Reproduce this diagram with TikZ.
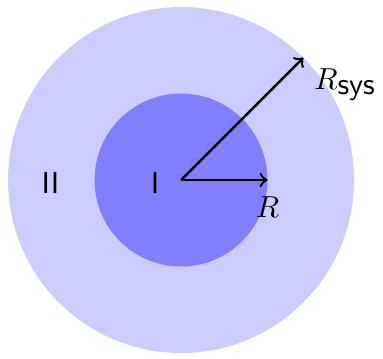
\documentclass[tikz,border=0pt]{standalone}
\usetikzlibrary{arrows}
\begin{document}
\begin{tikzpicture}[
  outerdisk/.style={fill=blue!20},
  innerdisk/.style={fill=blue!50},
  radarrow/.style={->,thick,black},
  lbl/.style={inner sep=1pt}
]
\useasboundingbox (-2.093,-2.058) rectangle (2.335,2.081);
\coordinate (c) at (0,0);
\fill[outerdisk] (c) circle (2);
\fill[innerdisk] (c) circle (1);
\coordinate (rend) at (1,0);
\coordinate (send) at (45:2);
\draw[radarrow] (c) -- (rend);
\draw[radarrow] (c) -- (send);
\node[lbl] (rlab) at (1.0,-0.31) {$R$};
\node[lbl] (slab) at (1.90,1.10) {$R_{\textsf{sys}}$};
\node[lbl] (one) at (-0.30,-0.03) {\textsf{I}};
\node[lbl] (two) at (-1.51,-0.03) {\textsf{II}};
\end{tikzpicture}
\end{document}
